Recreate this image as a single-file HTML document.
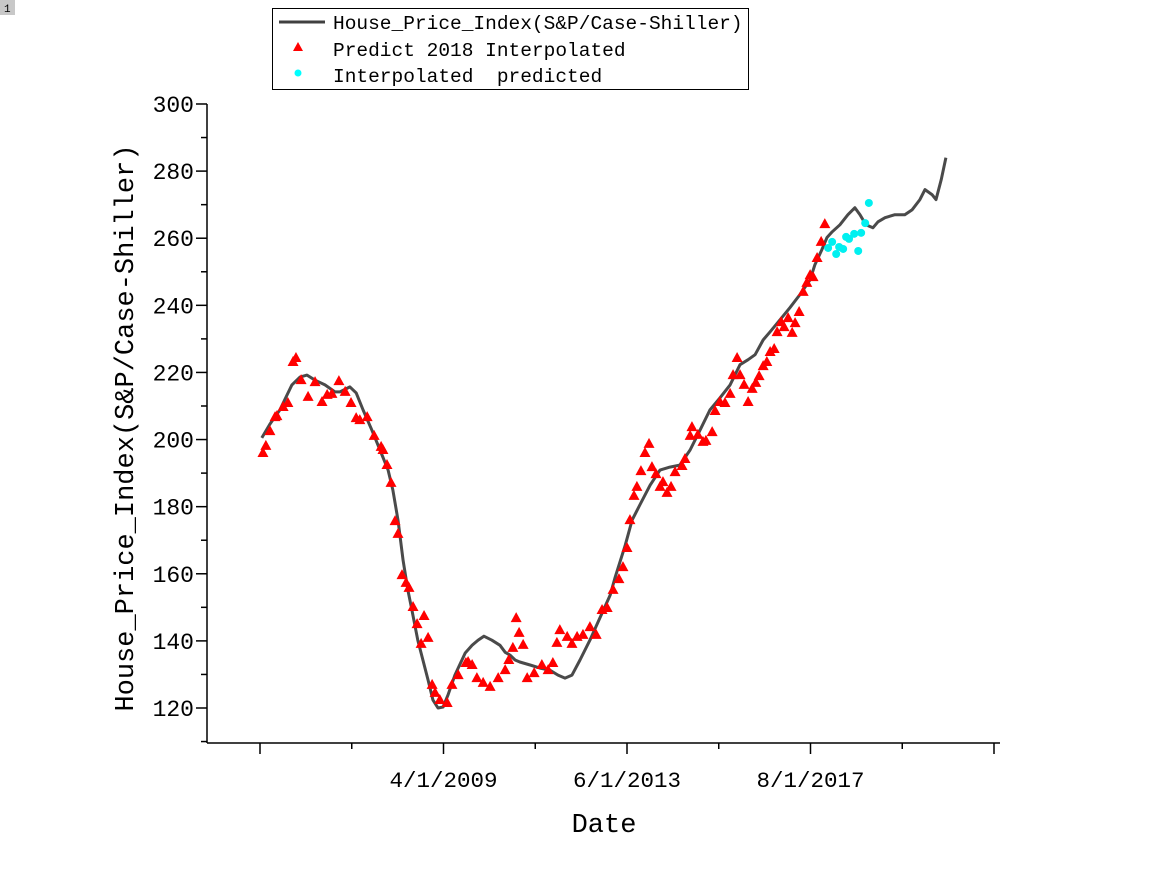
<!DOCTYPE html>
<html><head><meta charset="utf-8"><style>
body{margin:0;background:#fff;width:1163px;height:890px;overflow:hidden}
svg{display:block}
text{font-family:"Liberation Mono",monospace;fill:#000}
</style></head><body>
<svg id="chart" width="1163" height="890">
<rect x="0" y="0" width="15" height="15" fill="#c8c8c8"/>
<text x="4" y="12" font-size="11" font-family="Liberation Sans,sans-serif">1</text>
<g id="legend">
<rect x="272.5" y="8.5" width="476" height="81" fill="#fff" stroke="#000"/>
<line x1="279" y1="22" x2="325" y2="22" stroke="#404040" stroke-width="3"/>
<text x="333" y="29" font-size="19.5">House_Price_Index(S&amp;P/Case-Shiller)</text>
<polygon points="298,42 293,51 303,51" fill="#ff0000"/>
<text x="333" y="56" font-size="19.5">Predict 2018 Interpolated</text>
<circle cx="298" cy="73" r="3.5" fill="#00ffff"/>
<text x="333" y="82" font-size="19.5" xml:space="preserve">Interpolated  predicted</text>
</g>
<g id="axes"></g>
<g id="series"></g>
<text x="604" y="832" font-size="27" text-anchor="middle">Date</text>
<text transform="translate(133,428) rotate(-90)" font-size="27" text-anchor="middle">House_Price_Index(S&amp;P/Case-Shiller)</text>
</svg>
<script>
const lineMonths=[0.5,2.7,5.4,8.7,10.9,12.8,15,17.7,20.4,21.8,24.5,26.2,28.1,30.5,32.7,34.9,36.2,37.6,39,40.3,41.4,43,44.4,45.8,47.1,48.5,49.9,51.2,53.1,55.9,57.8,59.4,61,63.2,65.4,66.8,68.1,69.5,70.8,73.6,76.3,79,81.2,83.1,85,87.2,89.9,92.6,95.4,96.7,99.5,101.4,103.5,106.3,109,111.7,114.4,117.2,119.9,122.6,125.3,128.1,130.8,133,134.9,137.1,139,141.7,144.4,147.1,149.9,151.2,153.1,154.5,155.9,158,160.2,162.1,163.5,165.1,167,168.4,170.3,173,175.7,177.7,179.8,181.2,183.1,184.2,185.6,186.9];
const lineValues=[200.5,204.6,208.8,216.3,218.6,219.2,217.7,216.3,214.2,214.2,215.7,213.9,208.8,202.8,196.9,190.9,184.9,176,164,155.1,149.2,140.2,134.3,128.3,122.4,120,120.3,123.8,129.8,136.4,138.7,140.2,141.4,140.2,138.7,136.6,135.8,134.3,133.7,132.8,131.9,131.3,129.8,128.9,129.8,134.3,140.2,146.8,153.6,158.7,168.5,176,180.5,186.4,190.9,191.8,192.4,196.9,202.8,208.8,212.4,216.3,222.3,223.8,225.3,229.7,232.1,235.7,239.3,243.2,247.6,252.1,256.6,260.2,261.9,264,267,269.1,267,264,263.1,264.9,266.1,267,267,268.5,271.5,274.5,273,271.5,277.4,284];
const predMonths=[0.8,1.6,2.7,4.1,4.6,6.3,7.6,9.0,9.8,11.2,13.1,15.0,16.9,18.3,19.6,21.5,23.2,24.8,26.2,27.2,29.2,31.1,33.0,33.5,34.6,35.7,36.8,37.6,38.7,39.8,40.6,41.7,42.8,44.7,43.9,45.8,46.9,47.7,49.0,51.0,52.3,54.0,56.1,56.7,57.8,59.1,60.8,62.7,64.9,66.8,67.8,68.9,69.8,70.6,71.7,72.8,74.7,76.8,78.5,79.8,80.9,81.7,83.7,85.0,86.4,88.0,89.9,91.6,93.2,94.6,96.2,97.8,98.9,100.0,100.8,101.9,102.7,103.8,104.9,106.0,106.8,107.9,109.0,109.8,110.9,112.0,113.1,115.0,115.8,117.7,117.2,119.3,120.7,121.5,123.2,124.0,125.3,126.7,128.1,130.0,128.9,130.8,131.9,133.0,134.1,135.1,136.0,137.1,138.1,139.0,140.1,140.9,142.0,142.8,143.9,145.0,145.8,146.9,148.0,149.0,149.9,150.7,151.8,152.9,153.9];
const predValues=[196.0,198.1,202.5,206.7,207.0,209.7,210.9,223.1,224.3,217.7,212.7,217.1,211.2,213.3,213.6,217.4,214.2,210.9,206.4,205.8,206.7,201.1,197.8,196.9,192.4,187.1,175.7,171.9,159.6,157.3,155.8,150.1,145.0,147.4,139.1,140.9,126.9,124.5,122.4,121.5,126.9,129.8,133.4,133.7,132.8,128.9,127.5,126.3,128.9,131.3,134.3,137.9,146.8,142.4,138.8,128.9,130.4,132.8,131.3,133.4,139.4,143.2,141.2,139.1,141.2,141.8,144.1,141.8,149.2,149.8,155.2,158.4,162.0,167.7,176.0,183.2,185.9,190.6,196.0,198.7,191.8,189.7,185.9,187.3,184.1,185.9,190.3,192.1,194.2,203.7,201.1,201.4,199.3,199.6,202.2,208.5,211.2,210.9,213.6,224.3,219.2,219.2,216.3,211.2,215.1,216.9,218.9,221.9,223.1,226.1,227.0,232.0,235.0,233.5,236.2,231.8,234.7,238.0,244.0,246.7,249.0,248.4,254.1,258.9,264.2];
const interpMonths=[165.9,164.9,163.8,161.9,160.5,159.7,163.0,158.9,157.8,157.0,155.9,154.8];
const interpValues=[270.5,264.5,261.6,261.3,259.8,260.4,256.2,256.8,257.4,255.3,258.9,257.1];
const yTicks=[120,140,160,180,200,220,240,260,280,300];
const xTickMonths=[0,50,100,150,200];
const xTickLabels=["","4/1/2009","6/1/2013","8/1/2017",""];

const NS="http://www.w3.org/2000/svg";
const X0=207,X1=1000,AXY=743;
function xs(m){return 260+m*3.67;}
function ys(v){return 708-(v-120)*3.3556;}
function mk(tag,attrs,parent){const e=document.createElementNS(NS,tag);for(const k in attrs)e.setAttribute(k,attrs[k]);parent.appendChild(e);return e;}
const axes=document.getElementById('axes'),ser=document.getElementById('series');

let e=mk('line',{x1:X0,y1:AXY,x2:X1,y2:AXY,stroke:'#000','stroke-width':1.5},axes);


e=mk('line',{x1:X0,y1:ys(300),x2:X0,y2:AXY,stroke:'#000','stroke-width':1.5},axes);



yTicks.forEach((v,i)=>{
  const y=ys(v);
  let t=mk('line',{x1:X0-11,y1:y,x2:X0,y2:y,stroke:'#000','stroke-width':1.5},axes);
  
  
  const ym=ys(v-10);
  if(ym<AXY){let m=mk('line',{x1:X0-6,y1:ym,x2:X0,y2:ym,stroke:'#000','stroke-width':1.5},axes);
  
  }
  let l=mk('text',{x:X0-13,y:y+8,'font-size':23,'text-anchor':'end'},axes);
  l.textContent=v;
  
  
});
xTickMonths.forEach((m,i)=>{
  const x=xs(m);
  let t=mk('line',{x1:x,y1:AXY,x2:x,y2:AXY+11,stroke:'#000','stroke-width':1.5},axes);
  
  
  if(i<xTickMonths.length-1){const xm=xs(m+25);
  let mt=mk('line',{x1:xm,y1:AXY,x2:xm,y2:AXY+6,stroke:'#000','stroke-width':1.5},axes);
  
  }
  if(xTickLabels[i]){let l=mk('text',{x:x,y:AXY+44,'font-size':22.5,'text-anchor':'middle'},axes);
  l.textContent=xTickLabels[i];
  
  }
});

const pts=lineMonths.map((m,i)=>xs(m).toFixed(1)+','+ys(lineValues[i]).toFixed(1)).join(' ');
const pl=mk('polyline',{points:pts,fill:'none',stroke:'#4a4a4a','stroke-width':3,'stroke-linejoin':'round'},ser);



predMonths.forEach((m,i)=>{
  const x=xs(m),y=ys(predValues[i]);
  const p=mk('polygon',{points:`${x},${y-6} ${x-5.5},${y+4} ${x+5.5},${y+4}`,fill:'#ff0000'},ser);
  
  
});
interpMonths.forEach((m,i)=>{
  const c=mk('circle',{cx:xs(m),cy:ys(interpValues[i]),r:4,fill:'#00f0f0'},ser);
  
  
});
</script>
</body></html>
